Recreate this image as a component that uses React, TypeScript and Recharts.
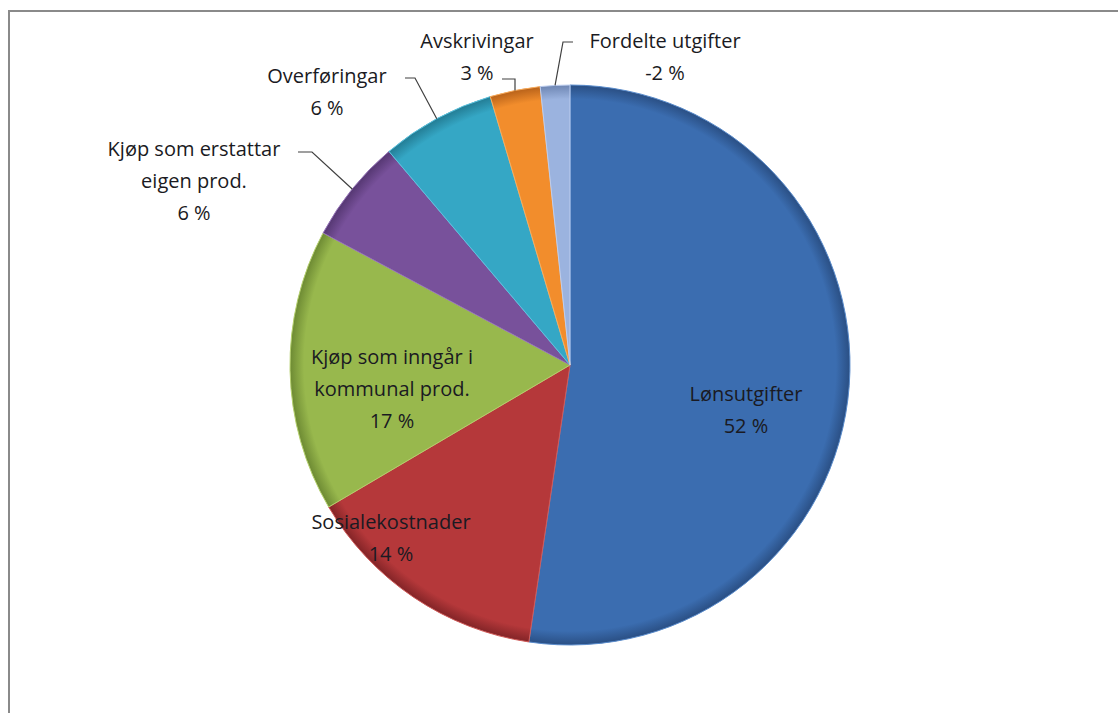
import React, { useEffect } from "react";
import { PieChart, Pie, Cell } from "recharts";

// Kategoriar og prosentdelar (lest av diagrammet)
const categories = [
  "Lønsutgifter",
  "Sosialekostnader",
  "Kjøp som inngår i kommunal prod.",
  "Kjøp som erstattar eigen prod.",
  "Overføringar",
  "Avskrivingar",
  "Fordelte utgifter",
];
const values = [52.4, 14.2, 16.3, 6.0, 6.6, 2.9, 1.7];
const percentLabels = ["52 %", "14 %", "17 %", "6 %", "6 %", "3 %", "-2 %"];
const labelLines = [
  ["Lønsutgifter"],
  ["Sosialekostnader"],
  ["Kjøp som inngår i", "kommunal prod."],
  ["Kjøp som erstattar", "eigen prod."],
  ["Overføringar"],
  ["Avskrivingar"],
  ["Fordelte utgifter"],
];

const COLORS = ["#3b6db0", "#b5383a", "#98b84d", "#78519b", "#35a7c5", "#f28d2c", "#9bb3df"];
const RIM = ["#2a4f84", "#832427", "#6d8a33", "#553772", "#237c94", "#b8621a", "#6e86b3"];
const LIGHT = ["#5a8ccc", "#d05a58", "#b4d06c", "#9573b8", "#5cc4e0", "#f9ac5c", "#bccdef"];

const CX = 570;
const CY = 365;
const R = 280;
const LINE_H = 32;

// label layout relative to pie centre: text centre x, first line y, optional leader (end, elbow)
const LABEL_LAYOUT = [
  { x: 176, y: 28 },
  { x: -179, y: 156 },
  { x: -178, y: -9 },
  { x: -376, y: -217, end: [-272, -213], elbow: [-258, -213] },
  { x: -243, y: -290, end: [-165, -287], elbow: [-155, -287] },
  { x: -93, y: -325, end: [-68, -286], elbow: [-55, -286] },
  { x: 95, y: -325, end: [3, -323], elbow: [-7, -323] },
];

const data = categories.map((name, i) => ({ name, value: values[i] }));

const RADIAN = Math.PI / 180;

const renderLabel = (props: any) => {
  const { cx, cy, midAngle, outerRadius, index } = props;
  const lay = LABEL_LAYOUT[index];
  const lines = [...labelLines[index], percentLabels[index]];
  const tx = cx + lay.x;
  let leader = null;
  if (lay.end) {
    const ax = cx + outerRadius * Math.cos(-midAngle * RADIAN);
    const ay = cy + outerRadius * Math.sin(-midAngle * RADIAN);
    leader = (
      <polyline
        points={`${cx + lay.end[0]},${cy + lay.end[1]} ${cx + lay.elbow[0]},${cy + lay.elbow[1]} ${ax},${ay}`}
        fill="none"
        stroke="#404040"
        strokeWidth={1.2}
      />
    );
  }
  return (
    <g key={`lbl-${index}`}>
      {leader}
      <text
        x={tx}
        y={cy + lay.y}
        textAnchor="middle"
        fill="#1a1a22"
        fontFamily="'Open Sans', sans-serif"
        fontSize={20}
      >
        {lines.map((l, j) => (
          <tspan key={j} x={tx} y={cy + lay.y + j * LINE_H} dominantBaseline="central">
            {l}
          </tspan>
        ))}
      </text>
    </g>
  );
};

const App = () => {
  useEffect(() => {
    document.body.style.margin = "0";
    document.body.style.overflow = "hidden";
  }, []);

  return (
    <div style={{ position: "relative", width: 1118, height: 713, background: "#fff", overflow: "hidden" }}>
      {/* frame: only left and top edges are visible in the picture */}
      <div style={{ position: "absolute", left: 8, top: 10, width: 1110, height: 2, background: "#8a8a8a" }} />
      <div style={{ position: "absolute", left: 8, top: 10, width: 2, height: 703, background: "#8a8a8a" }} />
      <div style={{ position: "absolute", left: 0, top: 0 }}>
        <PieChart width={1118} height={713} margin={{ top: 0, right: 0, bottom: 0, left: 0 }}>
          <defs>
            {COLORS.map((c, i) => (
              <radialGradient
                key={`g-${i}`}
                id={`slice-${i}`}
                gradientUnits="userSpaceOnUse"
                cx={CX}
                cy={CY}
                r={R}
              >
                <stop offset="0%" stopColor={c} />
                <stop offset="95%" stopColor={c} />
                <stop offset="100%" stopColor={RIM[i]} />
              </radialGradient>
            ))}
          </defs>
          <Pie
            data={data}
            dataKey="value"
            nameKey="name"
            cx={CX}
            cy={CY}
            outerRadius={R}
            startAngle={90}
            endAngle={-270}
            isAnimationActive={false}
            label={renderLabel}
            labelLine={false}
          >
            {data.map((entry, index) => (
              <Cell
                key={`cell-${index}`}
                fill={`url(#slice-${index})`}
                stroke={LIGHT[index]}
                strokeWidth={1}
              />
            ))}
          </Pie>
        </PieChart>
      </div>
    </div>
  );
};

export default App;
